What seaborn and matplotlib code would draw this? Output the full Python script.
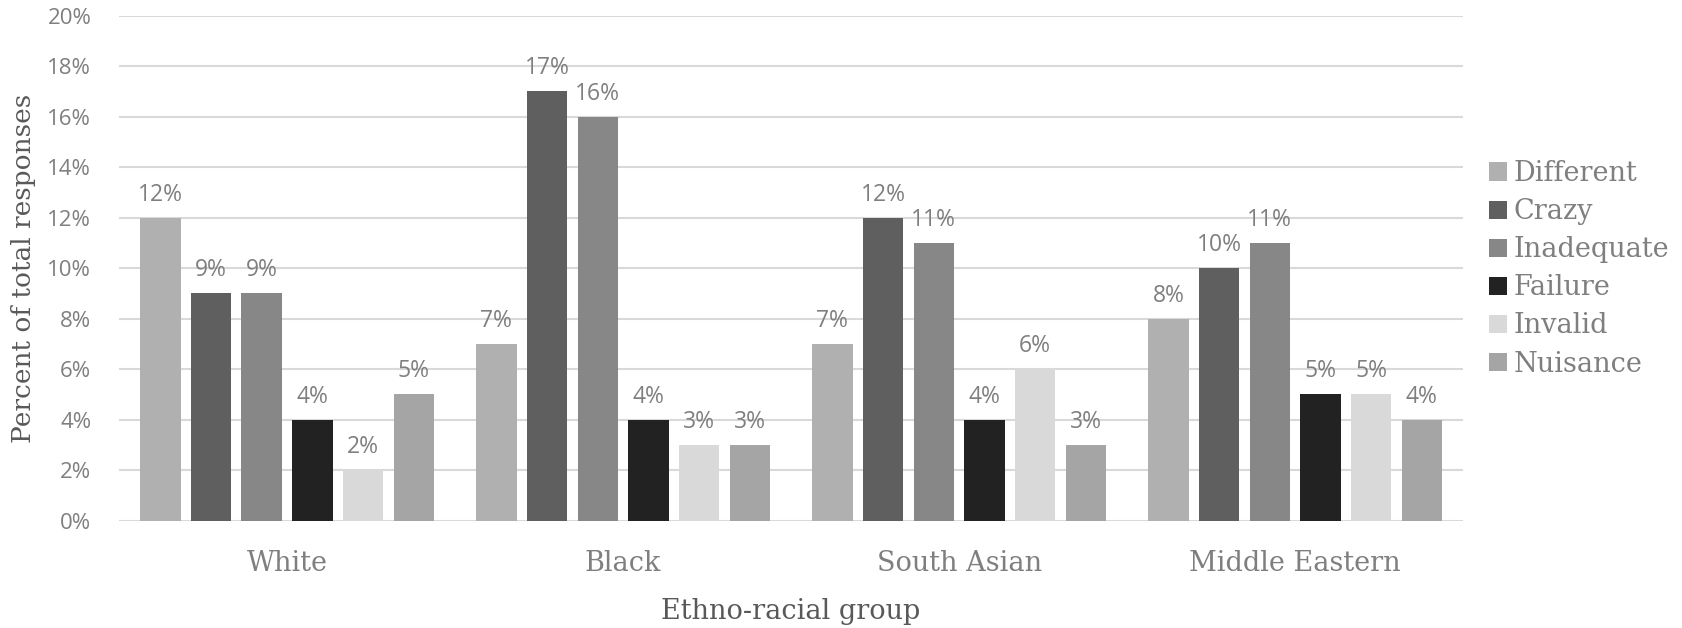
import matplotlib
matplotlib.use("Agg")
import matplotlib.pyplot as plt
import seaborn as sns
import pandas as pd
from matplotlib.patches import Patch

groups = ["White", "Black", "South Asian", "Middle Eastern"]
categories = ["Different", "Crazy", "Inadequate", "Failure", "Invalid", "Nuisance"]
different = [12, 7, 7, 8]
crazy = [9, 17, 12, 10]
inadequate = [9, 16, 11, 11]
failure = [4, 4, 4, 5]
invalid = [2, 3, 6, 5]
nuisance = [5, 3, 3, 4]
colors = ["#b0b0b0", "#5f5f5f", "#878787", "#222222", "#d9d9d9", "#a5a5a5"]

series = [different, crazy, inadequate, failure, invalid, nuisance]
rows = []
for cat, vals in zip(categories, series):
    for g, v in zip(groups, vals):
        rows.append({"group": g, "category": cat, "value": v})
df = pd.DataFrame(rows)

sns.set_style("white")
text_gray = "#7f7f7f"
serif = ["DejaVu Serif"]
sans = ["Open Sans", "DejaVu Sans"]

fig = plt.figure(figsize=(16.82, 6.28), dpi=100)
ax = fig.add_axes([0.0708, 0.1709, 0.7991, 0.8041])

sns.barplot(data=df, x="group", y="value", hue="category", order=groups,
            hue_order=categories, palette=colors, width=0.905, gap=0.2,
            saturation=1, ax=ax, legend=False, errorbar=None, linewidth=0)

for cont in ax.containers:
    ax.bar_label(cont, labels=[f"{int(round(b.get_height()))}%" for b in cont],
                 padding=8, color=text_gray, fontsize=16.5, family=sans)

ax.set_ylim(0, 20)
ax.set_yticks(range(0, 21, 2))
ax.set_yticklabels([f"{t}%" for t in range(0, 21, 2)], family=sans,
                   fontsize=16, color=text_gray)
ax.set_xlim(-0.5, 3.5)
ax.tick_params(axis="x", labelsize=19.5, colors=text_gray, length=0, pad=21)
ax.tick_params(axis="y", length=0, pad=20)
for lab in ax.get_xticklabels():
    lab.set_family(serif)
ax.yaxis.grid(True, color="#d9d9d9", lw=1.5)
ax.set_axisbelow(True)
for s in ax.spines.values():
    s.set_visible(False)

ax.set_xlabel("Ethno-racial group", family=serif, fontsize=19.5, color="#595959", labelpad=15)
ax.set_ylabel("Percent of total responses", family=serif, fontsize=19, color="#595959", labelpad=8)

handles = [Patch(facecolor=c, edgecolor="none") for c in colors]
leg = fig.legend(handles, categories, loc="center left", bbox_to_anchor=(0.8853, 0.572),
                 frameon=False, prop={"family": serif, "size": 19.5},
                 handlelength=0.65, handleheight=0.65, handletextpad=0.24,
                 labelspacing=0.41, labelcolor=text_gray, borderpad=0, borderaxespad=0)

fig.savefig("out.png", dpi=100)
